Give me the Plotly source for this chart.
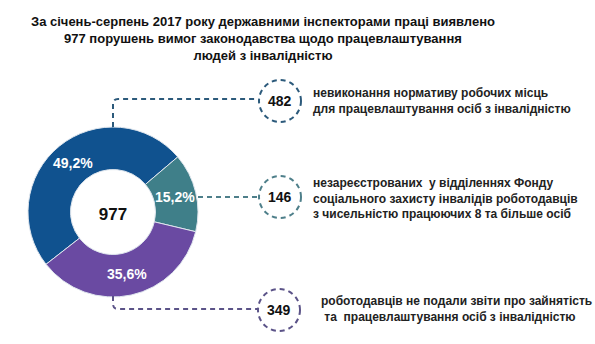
import math
import plotly.graph_objects as go

W, H = 595, 344

title_lines = ["За січень-серпень 2017 року державними інспекторами праці виявлено",
               "977 порушень вимог законодавства щодо працевлаштування",
               "людей з інвалідністю"]
total_label = "977"
values = [482, 146, 349]
pct_labels = ["49,2%", "15,2%", "35,6%"]
descriptions = [
    ["невиконання нормативу робочих місць", "для працевлаштування осіб з інвалідністю"],
    ["незареєстрованих  у відділеннях Фонду", "соціального захисту інвалідів роботодавців",
     "з чисельністю працюючих 8 та більше осіб"],
    ["роботодавців не подали звіти про зайнятість", "\u00a0та\u00a0\u00a0працевлаштування осіб з інвалідністю"],
]

slice_colors = ["#10528f", "#3f7f89", "#6a4aa2"]
line_colors = ["#2c5a7b", "#4e7f8a", "#5b5388"]
FONT = "Liberation Sans, Arial"


def px(x):
    return x / W


def py(y):
    return 1 - y / H


cx, cy, R = 113, 212, 85
HOLE = 0.5
ROT = -128

fig = go.Figure()
fig.add_trace(go.Pie(
    values=values,
    textinfo="none",
    marker=dict(colors=slice_colors, line=dict(color="#dfe6ee", width=1)),
    hole=HOLE,
    sort=False,
    direction="clockwise",
    rotation=ROT,
    showlegend=False,
    hoverinfo="skip",
    domain=dict(x=[px(cx - R), px(cx + R)], y=[py(cy + R), py(cy - R)]),
    title=dict(text="<b>" + total_label + "</b>", position="middle center",
               font=dict(family=FONT, size=17, color="#111")),
))

annotations = []

# percentage labels at slice mid-angles (derived from the values)
total = sum(values)
cum = 0
r_lab = R * (1 + HOLE) / 2
for v, lab in zip(values, pct_labels):
    theta = math.radians(ROT + 360 * (cum + v / 2) / total)
    lx = cx + r_lab * math.sin(theta)
    ly = cy - r_lab * math.cos(theta)
    annotations.append(dict(text=f"<b>{lab}</b>", x=px(lx), y=py(ly), xref="paper", yref="paper",
                            xanchor="center", yanchor="middle", showarrow=False,
                            font=dict(family=FONT, size=14, color="white")))
    cum += v

shapes = []
dash = "5px,4px"
paths = [
    f"M {px(113)},{py(127)} L {px(113)},{py(104)} Q {px(113)},{py(99)} {px(118)},{py(99)} L {px(258)},{py(99)}",
    f"M {px(198)},{py(197)} L {px(259)},{py(197)}",
    f"M {px(113)},{py(296)} L {px(113)},{py(304)} Q {px(113)},{py(309)} {px(118)},{py(309)} L {px(258)},{py(309)}",
]
for p, c in zip(paths, line_colors):
    shapes.append(dict(type="path", path=p, xref="paper", yref="paper",
                       line=dict(color=c, width=2, dash=dash)))

centers = [(280, 101), (280, 197), (279, 310)]
r = 21
for (x, y), c in zip(centers, line_colors):
    shapes.append(dict(type="circle", xref="paper", yref="paper",
                       x0=px(x - r), x1=px(x + r), y0=py(y + r), y1=py(y - r),
                       line=dict(color=c, width=2, dash=dash)))

annotations.append(dict(text="<b>" + "<br>".join(title_lines) + "</b>", x=px(263), y=py(39),
                        xref="paper", yref="paper", xanchor="center", yanchor="middle",
                        showarrow=False, align="center",
                        font=dict(family=FONT, size=13, color="#111")))
for (x, y), v in zip(centers, values):
    annotations.append(dict(text=f"<b>{v}</b>", x=px(x), y=py(y), xref="paper", yref="paper",
                            xanchor="center", yanchor="middle", showarrow=False,
                            font=dict(family=FONT, size=14, color="#111")))

desc_pos = [(311, 101), (311, 198.5), (319, 309)]
for (x, y), lines in zip(desc_pos, descriptions):
    annotations.append(dict(text="<b>" + "<br>".join(lines) + "</b>", x=px(x), y=py(y),
                            xref="paper", yref="paper", xanchor="left", yanchor="middle",
                            align="left", showarrow=False,
                            font=dict(family=FONT, size=12, color="#222")))

fig.update_layout(
    width=W, height=H,
    margin=dict(l=0, r=0, t=0, b=0),
    paper_bgcolor="white", plot_bgcolor="white",
    shapes=shapes, annotations=annotations,
)

fig.write_html("out.html")
